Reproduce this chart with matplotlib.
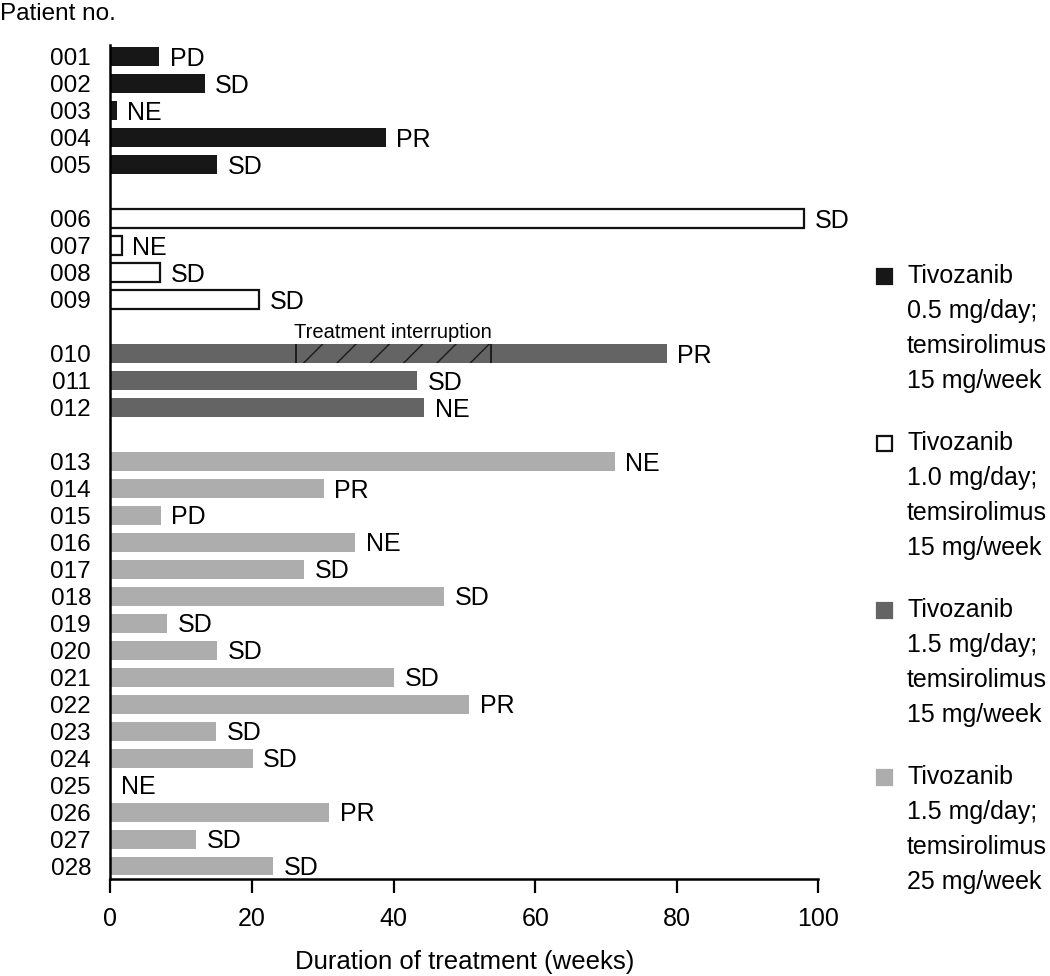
import matplotlib
matplotlib.use("Agg")
import matplotlib.pyplot as plt
from matplotlib import font_manager
from matplotlib.patches import Rectangle

# data
patients = ["001", "002", "003", "004", "005",
            "006", "007", "008", "009",
            "010", "011", "012",
            "013", "014", "015", "016", "017", "018", "019", "020",
            "021", "022", "023", "024", "025", "026", "027", "028"]
weeks = [6.9, 13.3, 0.9, 38.9, 15.1,
         98.0, 1.6, 7.0, 21.0,
         78.6, 43.3, 44.3,
         71.2, 30.1, 7.1, 34.6, 27.4, 47.1, 8.0, 15.1,
         40.1, 50.7, 14.9, 20.1, 0.0, 30.9, 12.1, 23.0]
response = ["PD", "SD", "NE", "PR", "SD",
            "SD", "NE", "SD", "SD",
            "PR", "SD", "NE",
            "NE", "PR", "PD", "NE", "SD", "SD", "SD", "SD",
            "SD", "PR", "SD", "SD", "NE", "PR", "SD", "SD"]
cohort = [0] * 5 + [1] * 4 + [2] * 3 + [3] * 16
cohort_labels = ["Tivozanib\n0.5 mg/day;\ntemsirolimus\n15 mg/week",
                 "Tivozanib\n1.0 mg/day;\ntemsirolimus\n15 mg/week",
                 "Tivozanib\n1.5 mg/day;\ntemsirolimus\n15 mg/week",
                 "Tivozanib\n1.5 mg/day;\ntemsirolimus\n25 mg/week"]
interrupt_patient = "010"
interrupt_span = (26.2, 53.7)

FACE = ["#171717", "white", "#646464", "#adadad"]
EDGE = ["#171717", "#111111", "#646464", "#adadad"]
BAR_H = 0.7

# the original uses a condensed grotesque; take a narrow face if one is installed
installed = {f.name for f in font_manager.fontManager.ttflist}
SANS = "Liberation Sans"
NARROW = "Liberation Sans Narrow" if "Liberation Sans Narrow" in installed else SANS
plt.rcParams["font.family"] = [SANS, "DejaVu Sans"]

fig = plt.figure(figsize=(10.5, 9.76), dpi=100)
ax = fig.add_axes([0.1052, 0.0994, 0.6743, 0.8545])

# one blank row between cohorts
rows = [i + g for i, g in enumerate(cohort)]

for p, w, r, g, y in zip(patients, weeks, response, cohort, rows):
    if w > 0:
        lw = 1.6 if g == 1 else 0
        ax.barh(y, w, height=BAR_H, color=FACE[g], edgecolor=EDGE[g], linewidth=lw)
    ax.annotate(r, xy=(w, y), xytext=(7.5, -1.5), textcoords="offset points",
                ha="left", va="center", fontsize=18, family=NARROW)

# treatment interruption on patient 010
iy = rows[patients.index(interrupt_patient)]
a, b = interrupt_span
ax.barh(iy, b - a, left=a, height=BAR_H, color=FACE[2], edgecolor="#1a1a1a",
        linewidth=0, hatch="/")
ax.vlines([a, b], iy - BAR_H / 2, iy + BAR_H / 2, color="#111111", lw=1.2)
ax.annotate("Treatment interruption", xy=((a + b) / 2, iy - BAR_H / 2), xytext=(0, 4.5),
            textcoords="offset points", ha="center", va="baseline", fontsize=14.5)

ax.set_xlim(0, 100)
ax.set_ylim(rows[-1] + 0.48, -0.44)
ax.set_xticks(range(0, 101, 20))
ax.set_yticks(rows)
ax.set_yticklabels(patients, family=NARROW, fontsize=17.5)
for t in ax.get_xticklabels():
    t.set_family(NARROW)
    t.set_fontsize(18)
ax.tick_params(axis="x", length=10, width=1.6, pad=10, direction="out")
ax.tick_params(axis="y", length=0, pad=14)
for s in ("top", "right"):
    ax.spines[s].set_visible(False)
for s in ("left", "bottom"):
    ax.spines[s].set_linewidth(1.8)
ax.set_xlabel("Duration of treatment (weeks)", family=NARROW, fontsize=18.5, labelpad=14)

fig.text(0.0, 1 - 20 / 976, "Patient no.", ha="left", va="baseline", fontsize=17.5)

# legend drawn by hand: square beside first line of each block
for k, lab in enumerate(cohort_labels):
    top = 276 + k * 167
    fig.add_artist(Rectangle((877 / 1050, 1 - (top + 8) / 976), 15 / 1050, 15 / 976,
                             transform=fig.transFigure, facecolor=FACE[k],
                             edgecolor="#111111" if k == 1 else FACE[k], linewidth=1.6))
    for j, line in enumerate(lab.split("\n")):
        fig.text(907 / 1050, 1 - (top + j * 35) / 976, line, ha="left", va="center",
                 fontsize=18)

fig.savefig("out.png", dpi=100)
